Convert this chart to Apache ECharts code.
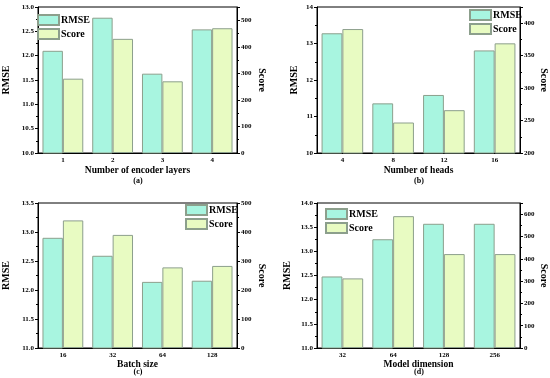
<!DOCTYPE html>
<html><head><meta charset="utf-8">
<script src="https://cdn.jsdelivr.net/npm/echarts@6/dist/echarts.min.js"></script>
<style>html,body{margin:0;padding:0;background:#fff}#c{width:550px;height:378px}</style>
</head><body><div id="c"></div>
<script>
// Panel (a)
var catsA = ['1', '2', '3', '4'];
var rmseA = [12.10, 12.78, 11.63, 12.54];
var scoreA = [280, 430, 270, 470];
// Panel (b)
var catsB = ['4', '8', '12', '16'];
var rmseB = [13.28, 11.36, 11.59, 12.81];
var scoreB = [391, 247, 266, 369];
// Panel (c)
var catsC = ['16', '32', '64', '128'];
var rmseC = [12.90, 12.59, 12.14, 12.16];
var scoreC = [440, 390, 278, 283];
// Panel (d)
var catsD = ['32', '64', '128', '256'];
var rmseD = [12.48, 13.25, 13.57, 13.57];
var scoreD = [312, 591, 421, 421];

var xNames = ['Number of encoder layers', 'Number of heads', 'Batch size', 'Model dimension'];
var subLabels = ['(a)', '(b)', '(c)', '(d)'];

var FONT = '"Liberation Serif", "Times New Roman", serif';
var C_RMSE = '#a8f5e0';
var C_SCORE = '#e8fbc2';
var C_BORDER = '#8c9f8c';

var panels = [
  {cats: catsA, rmse: rmseA, score: scoreA, grid: {left: 38, top: 7, width: 199, height: 146},
   yL: [10, 13, 0.5, 1], yR: [0, 550, 100], gapL: 27, gapR: 20, gapX: 13, sub: [138, 177],
   leg: {left: 37, top: 14}},
  {cats: catsB, rmse: rmseB, score: scoreB, grid: {left: 317, top: 7, width: 204, height: 146},
   yL: [10, 14, 1, 0], yR: [200, 425, 50], gapL: 18, gapR: 19, gapX: 13, sub: [419, 177],
   leg: {left: 469, top: 9}},
  {cats: catsC, rmse: rmseC, score: scoreC, grid: {left: 38, top: 203, width: 199, height: 145},
   yL: [11, 13.5, 0.5, 1], yR: [0, 500, 100], gapL: 27, gapR: 20, gapX: 10, sub: [138, 368],
   leg: {left: 185, top: 204}},
  {cats: catsD, rmse: rmseD, score: scoreD, grid: {left: 317, top: 203, width: 204, height: 145},
   yL: [11, 14, 0.5, 1], yR: [0, 650, 100], gapL: 25, gapR: 19, gapX: 10, sub: [419, 368],
   leg: {left: 325, top: 208}}
];

var option = {
  animation: false,
  backgroundColor: '#fff',
  grid: [], xAxis: [], yAxis: [], series: [], legend: [], title: []
};

var tickLbl = {fontFamily: FONT, fontWeight: 'bold', fontSize: 7, color: '#000'};

panels.forEach(function (p, i) {
  var g = p.grid;
  option.grid.push({left: g.left, top: g.top, width: g.width, height: g.height,
    show: true, borderColor: '#000', borderWidth: 1, backgroundColor: 'transparent'});
  option.xAxis.push({
    type: 'category', gridIndex: i, data: p.cats,
    name: xNames[i], nameLocation: 'middle', nameGap: p.gapX,
    nameTextStyle: {fontFamily: FONT, fontWeight: 'bold', fontSize: 9.5, color: '#000'},
    axisLine: {lineStyle: {color: '#000', width: 1}},
    axisTick: {alignWithLabel: true, length: 3, lineStyle: {color: '#000'}},
    axisLabel: Object.assign({margin: 4}, tickLbl)
  });
  var dec = p.yL[2] < 1 ? 1 : 0;
  option.yAxis.push({
    type: 'value', gridIndex: i, position: 'left',
    min: p.yL[0], max: p.yL[1], interval: p.yL[2],
    name: 'RMSE', nameLocation: 'middle', nameGap: p.gapL, nameRotate: 90,
    nameTextStyle: {fontFamily: FONT, fontWeight: 'bold', fontSize: 10, color: '#000'},
    axisLine: {show: true, lineStyle: {color: '#000'}},
    axisTick: {show: true, length: 3, lineStyle: {color: '#000'}},
    minorTick: {show: true, splitNumber: 2, length: 2, lineStyle: {color: '#000'}},
    splitLine: {show: false},
    axisLabel: Object.assign({margin: 4, formatter: function (v) { return v.toFixed(dec); }}, tickLbl)
  });
  option.yAxis.push({
    type: 'value', gridIndex: i, position: 'right',
    min: p.yR[0], max: p.yR[1], interval: p.yR[2],
    name: 'Score', nameLocation: 'middle', nameGap: p.gapR, nameRotate: -90,
    nameTextStyle: {fontFamily: FONT, fontWeight: 'bold', fontSize: 10, color: '#000'},
    axisLine: {show: true, lineStyle: {color: '#000'}},
    axisTick: {show: true, length: 3, lineStyle: {color: '#000'}},
    minorTick: {show: true, splitNumber: 2, length: 2, lineStyle: {color: '#000'}},
    splitLine: {show: false},
    axisLabel: Object.assign({margin: 4, showMaxLabel: (p.yR[1] % p.yR[2] === 0)}, tickLbl)
  });
  option.series.push({
    name: 'RMSE', type: 'bar', xAxisIndex: i, yAxisIndex: 2 * i, data: p.rmse,
    barGap: '0%', barCategoryGap: '18%',
    itemStyle: {color: C_RMSE, borderColor: C_BORDER, borderWidth: 1}
  });
  option.series.push({
    name: 'Score', type: 'bar', xAxisIndex: i, yAxisIndex: 2 * i + 1, data: p.score,
    barGap: '0%', barCategoryGap: '18%',
    itemStyle: {color: C_SCORE, borderColor: C_BORDER, borderWidth: 1}
  });
  option.legend.push({
    data: [{name: 'RMSE', icon: 'rect'}, {name: 'Score', icon: 'rect'}],
    orient: 'vertical', left: p.leg.left, top: p.leg.top,
    itemWidth: 21, itemHeight: 10, itemGap: 2, padding: 0,
    textStyle: {fontFamily: FONT, fontWeight: 'bold', fontSize: 10, color: '#000', padding: [0, 0, 0, -3]},
    selectedMode: false
  });
  option.title.push({
    text: subLabels[i], left: p.sub[0], top: p.sub[1], padding: 0,
    textAlign: 'center',
    textStyle: {fontFamily: FONT, fontWeight: 'bold', fontSize: 8, color: '#000'}
  });
});

var chart = echarts.init(document.getElementById('c'), null, {renderer: 'canvas'});
chart.setOption(option);
</script>
</body></html>
